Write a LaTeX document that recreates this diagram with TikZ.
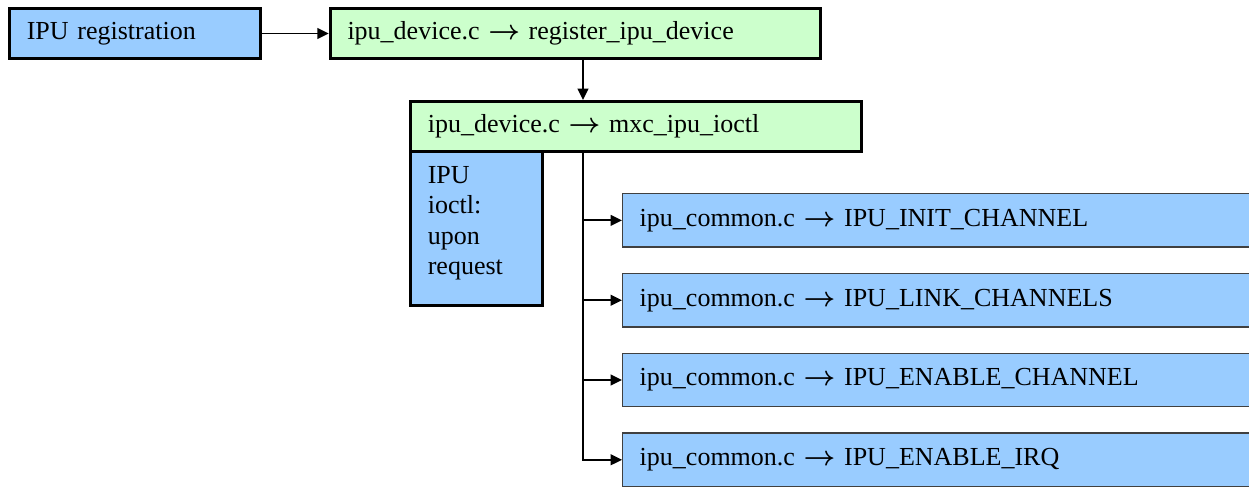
\documentclass[tikz,border=0pt]{standalone}
\usepackage{amsmath}
\usepackage{fontspec}
\setmainfont{Liberation Serif}
\usetikzlibrary{positioning,arrows.meta}
\definecolor{ipublue}{HTML}{99CCFF}
\definecolor{ipugreen}{HTML}{CCFFCC}
\newcommand{\calls}{$\boldsymbol{\rightarrow}$}

\begin{document}
\begin{tikzpicture}[
  x=0.75pt, y=-0.75pt,
  node distance=50.25pt,
  font=\fontsize{19.5pt}{22.75pt}\selectfont,
  topbox/.style={rectangle, draw=black, line width=2.25pt, minimum height=37.5pt, inner xsep=13pt, inner ysep=0pt, align=left},
  sidebox/.style={rectangle, draw=black!75, line width=1.1pt, fill=ipublue, minimum height=40pt, inner xsep=12.75pt, inner ysep=0pt, text width=500pt, align=left},
  link/.style={line width=1.4pt, -{Triangle[length=8.5pt, width=8pt]}}
]
\clip (0,0) rectangle (1249,486);
\node[topbox, fill=ipublue, text width=162pt, anchor=north west] (reg) at (8,7) {IPU registration};
\node[topbox, fill=ipugreen, text width=342pt, right=of reg] (dev) {ipu\_device.c \calls{} register\_ipu\_device};
\node[topbox, fill=ipugreen, text width=312pt, anchor=north west] (mxc) at (409,100) {ipu\_device.c \calls{} mxc\_ipu\_ioctl};
\node[topbox, fill=ipublue, text width=73pt, text height=12.5pt, text depth=80pt, inner ysep=11.5pt, anchor=north west, yshift=2.25pt] (ioctl) at (mxc.south west) {IPU\\ioctl:\\upon\\request};
\coordinate (trunk) at (583,153);
% ioctl requests
\node[sidebox, anchor=north west] (init) at (622,193) {ipu\_common.c \calls{} IPU\_INIT\_CHANNEL};
\node[sidebox, below=18.75pt of init] (link) {ipu\_common.c \calls{} IPU\_LINK\_CHANNELS};
\node[sidebox, below=18.75pt of link] (enable) {ipu\_common.c \calls{} IPU\_ENABLE\_CHANNEL};
\node[sidebox, below=18.75pt of enable] (irq) {ipu\_common.c \calls{} IPU\_ENABLE\_IRQ};
\draw[link] (reg) -- (dev);
\draw[link] (dev.south -| trunk) -- (trunk |- mxc.north);
\draw[link] (trunk) |- (init.west);
\draw[link] (trunk) |- (link.west);
\draw[link] (trunk) |- (enable.west);
\draw[link] (trunk) |- (irq.west);
\end{tikzpicture}
\end{document}
